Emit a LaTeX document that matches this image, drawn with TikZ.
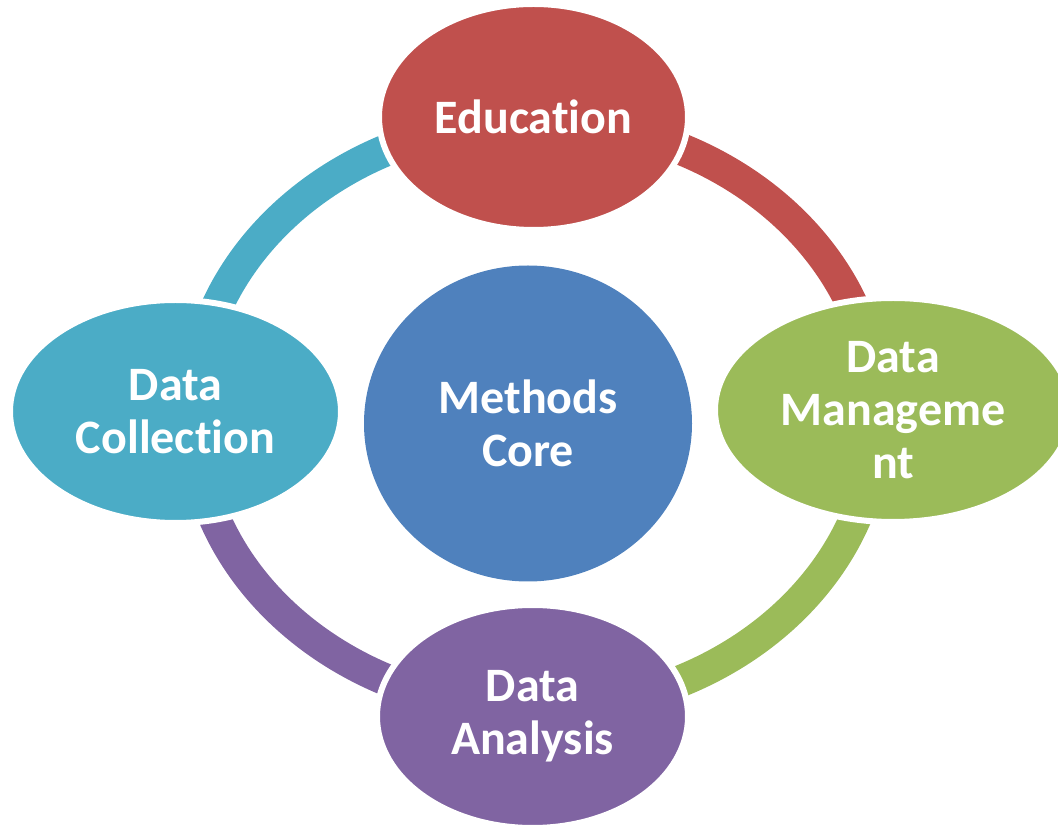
\documentclass[tikz,border=0pt]{standalone}
\usepackage{fontspec}
\setmainfont{Carlito}[Ligatures=NoCommon]
\usetikzlibrary{shapes.geometric}

\definecolor{edured}{HTML}{C0504D}
\definecolor{mgmtgreen}{HTML}{9BBB59}
\definecolor{anapurple}{HTML}{8064A2}
\definecolor{colteal}{HTML}{4BACC6}
\definecolor{coreblue}{HTML}{4F81BD}

\tikzset{
  phase/.style={ellipse, fill=#1, draw=white, line width=6pt, inner sep=0pt,
    text=white, align=center, font=\bfseries\fontsize{48}{53}\selectfont},
  ringarc/.style={draw=#1, line width=32pt},
}

\begin{document}
\begin{tikzpicture}[x=1pt, y=1pt]
			\useasboundingbox (0,0) rectangle (1058,828);
			\clip (0,0) rectangle (1058,828);
			
			% Ring centre
			\coordinate (hub) at (535,413);
			
			% Ring segments
			\draw[ringarc=edured] (hub) ++(90:342 and 294) arc[start angle=90, end angle=0, x radius=342pt, y radius=294pt];
			\draw[ringarc=mgmtgreen] (hub) ++(0:342 and 294) arc[start angle=0, end angle=-90, x radius=342pt, y radius=294pt];
			\draw[ringarc=anapurple] (hub) ++(270:342 and 294) arc[start angle=270, end angle=180, x radius=342pt, y radius=294pt];
			\draw[ringarc=colteal] (hub) ++(180:342 and 294) arc[start angle=180, end angle=90, x radius=342pt, y radius=294pt];
			
			% Core
			\node[ellipse, fill=coreblue, inner sep=0pt, minimum width=328pt, minimum height=316pt,
			  text=white, align=center, font=\bfseries\fontsize{48}{53}\selectfont] (core) at (528,404.5) {Methods\\Core};
			
			% Phases
			\node[phase=edured, minimum width=309pt, minimum height=226pt] (edu) at (533.5,711) {Education};
			\node[phase=mgmtgreen, minimum width=356pt, minimum height=224pt] (mgmt) at (893,418) {Data\\Manageme\\nt};
			\node[phase=anapurple, minimum width=311pt, minimum height=223pt] (ana) at (532.5,111.5) {Data\\Analysis};
			\node[phase=colteal, minimum width=331pt, minimum height=223pt] (col) at (175.5,416.5) {Data\\Collection};
		\end{tikzpicture}
\end{document}
